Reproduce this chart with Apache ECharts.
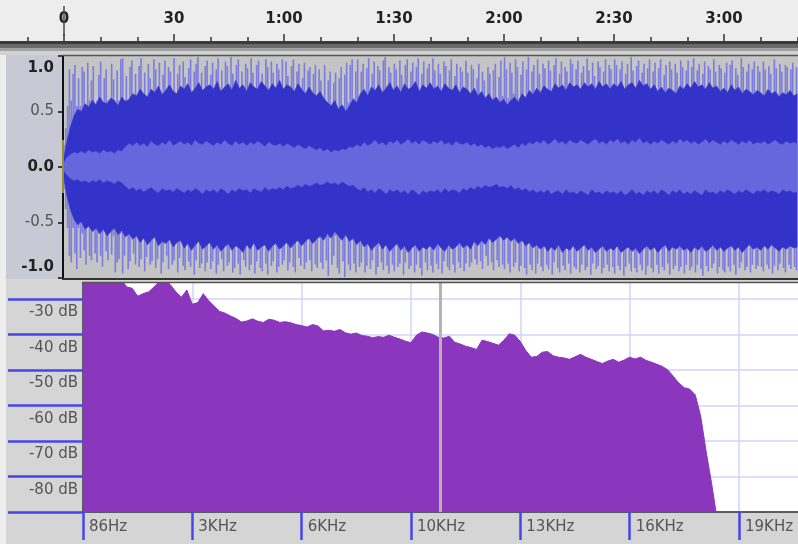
<!DOCTYPE html>
<html><head><meta charset="utf-8">
<script src="https://cdn.jsdelivr.net/npm/echarts@6/dist/echarts.min.js"></script>
<style>html,body{margin:0;padding:0;background:#fff}#c{width:798px;height:544px}</style>
</head><body><div id="c"></div>
<script>
// ---- data ----
const timeMajor = [0, 30, 60, 90, 120, 150, 180];
const timeMinor = [-10, 10, 20, 40, 50, 70, 80, 100, 110, 130, 140, 160, 170, 190, 200];
const ampTicks = [-1, -0.5, 0, 0.5, 1];
const dbTicks = [-90, -80, -70, -60, -50, -40, -30];
const freqLabels = ['86Hz', '3KHz', '6KHz', '10KHz', '13KHz', '16KHz', '19KHz'];
const freqTickIdx = [0, 1, 2, 3, 4, 5, 6];

// waveform peaks, every 0.5 s (t = 0.25, 0.75, ...)
const peakStep = 0.5;
const peakTop = [
 0.20,0.35,0.55,0.88,0.60,0.84,0.92,0.55,0.80,0.55,0.90,0.86,0.55,0.94,0.60,0.78,0.91,0.55,0.60,0.83,
 0.95,0.55,0.80,0.88,0.60,0.55,0.93,0.79,0.55,0.87,0.60,0.97,0.98,0.55,0.82,0.60,0.90,0.96,0.55,0.84,
 0.60,0.91,0.98,0.65,0.85,0.60,0.93,0.80,0.62,0.97,0.88,0.60,0.94,0.65,0.83,0.96,0.62,0.90,0.86,0.60,
 0.98,0.64,0.84,0.92,0.60,0.95,0.81,0.66,0.89,0.97,0.62,0.86,0.93,0.99,0.65,0.85,0.60,0.91,0.96,0.64,
 0.83,0.94,0.62,0.88,0.98,0.66,0.87,0.60,0.95,0.91,0.64,0.99,0.84,0.62,0.92,0.97,0.65,0.86,0.60,0.93,
 0.89,0.64,0.98,0.85,0.62,0.92,0.96,0.66,0.84,0.60,0.97,0.90,0.63,0.95,0.85,0.62,0.93,0.88,0.66,0.97,
 0.62,0.95,0.82,0.64,0.91,0.97,0.60,0.86,0.93,0.62,0.80,0.94,0.65,0.87,0.90,0.60,0.84,0.92,0.62,0.88,
 0.78,0.60,0.92,0.55,0.78,0.86,0.55,0.76,0.85,0.55,0.80,0.90,0.55,0.83,0.94,0.58,0.92,0.97,0.62,0.86,
 0.97,0.64,0.86,0.93,0.62,0.89,0.98,0.65,0.84,0.95,0.60,0.91,0.87,0.64,0.96,0.99,0.62,0.90,0.85,0.66,
 0.93,0.88,0.62,0.96,0.83,0.65,0.92,0.97,0.60,0.86,0.94,0.64,0.90,0.98,0.62,0.84,0.95,0.66,0.89,0.93,
 0.64,0.98,0.87,0.62,0.93,0.84,0.66,0.95,0.91,0.60,0.87,0.97,0.64,0.82,0.93,0.62,0.90,0.86,0.65,0.96,
 0.85,0.62,0.92,0.88,0.60,0.80,0.93,0.62,0.86,0.78,0.60,0.90,0.84,0.62,0.87,0.93,0.60,0.81,0.96,0.64,
 0.99,0.88,0.62,0.94,0.85,0.66,0.97,0.90,0.62,0.83,0.95,0.64,0.88,0.99,0.62,0.86,0.92,0.66,0.97,0.84,
 0.64,0.93,0.89,0.62,0.96,0.87,0.65,0.92,0.98,0.62,0.84,0.95,0.66,0.90,0.86,0.62,0.97,0.93,0.64,0.88,
 0.96,0.62,0.85,0.91,0.66,0.98,0.87,0.62,0.94,0.82,0.65,0.95,0.90,0.62,0.86,0.97,0.64,0.92,0.88,0.66,
 0.97,0.92,0.64,0.88,0.95,0.62,0.84,0.93,0.66,0.99,0.87,0.62,0.91,0.96,0.65,0.85,0.93,0.62,0.89,0.97,
 0.64,0.86,0.94,0.62,0.89,0.97,0.66,0.83,0.92,0.62,0.95,0.88,0.64,0.93,0.85,0.62,0.96,0.90,0.66,0.87,
 0.96,0.64,0.90,0.98,0.62,0.87,0.93,0.66,0.84,0.95,0.62,0.91,0.88,0.64,0.97,0.86,0.62,0.92,0.89,0.65,
 0.85,0.94,0.62,0.92,0.96,0.66,0.89,0.83,0.62,0.98,0.90,0.64,0.86,0.93,0.62,0.88,0.95,0.66,0.91,0.86,
 0.62,0.95,0.88,0.64,0.91,0.84,0.62,0.97,0.89,0.66,0.93,0.86,0.62,0.92,0.90,0.64,0.88,0.94,0.62,0.90];
const peakBottom = [
 -0.20,-0.38,-0.55,-0.80,-0.86,-0.55,-0.78,-0.92,-0.55,-0.82,-0.60,-0.75,-0.88,-0.55,-0.80,-0.84,-0.58,-0.78,-0.86,-0.60,
 -0.80,-0.90,-0.58,-0.76,-0.84,-0.60,-0.79,-0.62,-0.95,-0.86,-0.83,-0.60,-0.96,-0.80,-0.62,-0.92,-0.85,-0.60,-0.78,-0.88,
 -0.62,-0.90,-0.83,-0.64,-0.94,-0.81,-0.66,-0.88,-0.85,-0.62,-0.91,-0.83,-0.65,-0.96,-0.86,-0.62,-0.80,-0.92,-0.66,-0.88,
 -0.84,-0.64,-0.95,-0.82,-0.66,-0.89,-0.93,-0.65,-0.85,-0.90,-0.62,-0.97,-0.84,-0.66,-0.91,-0.87,-0.64,-0.94,-0.86,-0.62,
 -0.92,-0.85,-0.66,-0.96,-0.88,-0.64,-0.83,-0.94,-0.62,-0.89,-0.86,-0.66,-0.95,-0.91,-0.64,-0.87,-0.97,-0.62,-0.84,-0.90,
 -0.66,-0.93,-0.88,-0.64,-0.96,-0.85,-0.62,-0.91,-0.94,-0.66,-0.87,-0.97,-0.64,-0.89,-0.85,-0.62,-0.95,-0.90,-0.66,-0.88,
 -0.84,-0.64,-0.93,-0.86,-0.62,-0.90,-0.95,-0.64,-0.82,-0.89,-0.62,-0.92,-0.86,-0.65,-0.84,-0.94,-0.62,-0.88,-0.91,-0.64,
 -0.86,-0.92,-0.62,-0.84,-0.98,-0.64,-0.88,-0.80,-0.62,-0.91,-0.96,-0.64,-0.85,-0.99,-0.62,-0.88,-0.93,-0.66,-0.87,-0.95,
 -0.64,-0.90,-0.86,-0.62,-0.95,-0.89,-0.66,-0.92,-0.84,-0.62,-0.97,-0.90,-0.64,-0.86,-0.93,-0.62,-0.89,-0.96,-0.66,-0.88,
 -0.94,-0.64,-0.90,-0.87,-0.62,-0.97,-0.86,-0.66,-0.92,-0.89,-0.64,-0.95,-0.88,-0.62,-0.91,-0.98,-0.66,-0.86,-0.93,-0.64,
 -0.89,-0.95,-0.62,-0.87,-0.92,-0.66,-0.96,-0.85,-0.64,-0.90,-0.93,-0.62,-0.88,-0.95,-0.66,-0.86,-0.91,-0.64,-0.94,-0.87,
 -0.62,-0.90,-0.86,-0.64,-0.83,-0.88,-0.62,-0.85,-0.92,-0.64,-0.80,-0.89,-0.62,-0.86,-0.93,-0.66,-0.84,-0.90,-0.62,-0.88,
 -0.92,-0.64,-0.87,-0.95,-0.62,-0.90,-0.86,-0.66,-0.94,-0.89,-0.62,-0.91,-0.97,-0.64,-0.88,-0.93,-0.62,-0.96,-0.87,-0.66,
 -0.90,-0.94,-0.62,-0.88,-0.92,-0.66,-0.97,-0.86,-0.64,-0.91,-0.95,-0.62,-0.89,-0.93,-0.66,-0.87,-0.96,-0.64,-0.90,-0.92,
 -0.62,-0.95,-0.88,-0.66,-0.93,-0.90,-0.64,-0.97,-0.87,-0.62,-0.92,-0.89,-0.66,-0.96,-0.91,-0.64,-0.88,-0.94,-0.62,-0.90,
 -0.96,-0.64,-0.89,-0.93,-0.62,-0.98,-0.90,-0.66,-0.87,-0.94,-0.64,-0.91,-0.95,-0.62,-0.88,-0.93,-0.66,-0.97,-0.89,-0.64,
 -0.91,-0.95,-0.62,-0.88,-0.96,-0.66,-0.90,-0.93,-0.64,-0.87,-0.97,-0.62,-0.92,-0.89,-0.66,-0.94,-0.90,-0.64,-0.96,-0.88,
 -0.64,-0.93,-0.90,-0.62,-0.95,-0.88,-0.66,-0.92,-0.98,-0.64,-0.89,-0.94,-0.62,-0.91,-0.87,-0.66,-0.96,-0.90,-0.64,-0.93,
 -0.95,-0.62,-0.90,-0.94,-0.66,-0.88,-0.97,-0.64,-0.91,-0.86,-0.62,-0.93,-0.90,-0.66,-0.95,-0.88,-0.64,-0.92,-0.89,-0.62,
 -0.90,-0.94,-0.66,-0.88,-0.92,-0.62,-0.96,-0.89,-0.64,-0.93,-0.87,-0.62,-0.91,-0.95,-0.66,-0.88,-0.92,-0.64,-0.90,-0.93];

// waveform body envelope and RMS band, every 1 s (t = 0..200)
const envStep = 1;
const bodyTop = [
 0.04,0.22,0.36,0.46,0.52,0.50,0.57,0.54,0.60,0.56,
 0.63,0.58,0.57,0.62,0.60,0.55,0.63,0.59,0.61,0.66,
 0.64,0.70,0.66,0.63,0.70,0.67,0.73,0.65,0.69,0.74,
 0.68,0.66,0.73,0.70,0.75,0.67,0.71,0.76,0.69,0.72,
 0.74,0.70,0.77,0.68,0.72,0.75,0.69,0.78,0.71,0.74,
 0.68,0.76,0.72,0.70,0.77,0.73,0.69,0.75,0.71,0.78,
 0.70,0.74,0.72,0.68,0.75,0.70,0.66,0.72,0.67,0.64,
 0.68,0.62,0.58,0.55,0.60,0.52,0.56,0.50,0.55,0.61,
 0.58,0.66,0.70,0.64,0.72,0.69,0.74,0.67,0.71,0.76,
 0.69,0.73,0.67,0.75,0.70,0.72,0.77,0.68,0.74,0.71,
 0.76,0.70,0.73,0.68,0.75,0.71,0.69,0.74,0.67,0.72,
 0.70,0.66,0.71,0.64,0.68,0.62,0.66,0.60,0.63,0.58,
 0.61,0.56,0.60,0.63,0.58,0.66,0.62,0.69,0.65,0.71,
 0.67,0.73,0.70,0.68,0.75,0.71,0.74,0.69,0.76,0.72,
 0.74,0.70,0.76,0.72,0.75,0.70,0.77,0.72,0.75,0.70,
 0.75,0.72,0.77,0.70,0.74,0.76,0.71,0.78,0.73,0.75,
 0.70,0.74,0.68,0.72,0.67,0.71,0.69,0.66,0.73,0.70,
 0.75,0.71,0.77,0.72,0.74,0.70,0.76,0.71,0.73,0.68,
 0.71,0.67,0.74,0.69,0.72,0.66,0.70,0.68,0.65,0.69,
 0.67,0.64,0.70,0.66,0.68,0.63,0.67,0.65,0.69,0.64,
 0.66];
const bodyBottom = [
 -0.05,-0.25,-0.38,-0.47,-0.52,-0.49,-0.56,-0.53,-0.58,-0.55,
 -0.60,-0.56,-0.62,-0.58,-0.55,-0.61,-0.57,-0.63,-0.60,-0.65,
 -0.62,-0.68,-0.64,-0.70,-0.66,-0.63,-0.71,-0.67,-0.69,-0.65,
 -0.72,-0.68,-0.66,-0.73,-0.69,-0.75,-0.70,-0.67,-0.74,-0.71,
 -0.68,-0.74,-0.70,-0.76,-0.72,-0.69,-0.75,-0.71,-0.73,-0.77,
 -0.70,-0.74,-0.68,-0.75,-0.72,-0.70,-0.76,-0.71,-0.69,-0.74,
 -0.71,-0.68,-0.73,-0.69,-0.66,-0.71,-0.67,-0.64,-0.69,-0.65,
 -0.62,-0.66,-0.60,-0.64,-0.58,-0.62,-0.66,-0.61,-0.67,-0.64,
 -0.70,-0.66,-0.72,-0.69,-0.75,-0.71,-0.68,-0.74,-0.70,-0.76,
 -0.72,-0.69,-0.75,-0.71,-0.77,-0.73,-0.70,-0.76,-0.72,-0.74,
 -0.71,-0.75,-0.69,-0.73,-0.76,-0.70,-0.74,-0.72,-0.68,-0.73,
 -0.70,-0.74,-0.67,-0.71,-0.66,-0.70,-0.64,-0.68,-0.65,-0.62,
 -0.66,-0.63,-0.67,-0.64,-0.69,-0.66,-0.71,-0.68,-0.73,-0.70,
 -0.74,-0.71,-0.76,-0.72,-0.75,-0.70,-0.77,-0.73,-0.75,-0.71,
 -0.76,-0.73,-0.70,-0.75,-0.72,-0.77,-0.74,-0.71,-0.76,-0.73,
 -0.75,-0.71,-0.77,-0.74,-0.72,-0.76,-0.73,-0.78,-0.74,-0.71,
 -0.75,-0.72,-0.77,-0.73,-0.70,-0.76,-0.72,-0.74,-0.71,-0.75,
 -0.73,-0.77,-0.72,-0.75,-0.71,-0.76,-0.74,-0.70,-0.75,-0.72,
 -0.76,-0.73,-0.71,-0.75,-0.72,-0.77,-0.73,-0.70,-0.74,-0.72,
 -0.75,-0.71,-0.74,-0.70,-0.73,-0.76,-0.72,-0.74,-0.71,-0.73,
 -0.72];
const rmsTop = [
 0.02,0.08,0.11,0.13,0.12,0.14,0.12,0.15,0.13,0.14,
 0.12,0.15,0.13,0.14,0.12,0.15,0.14,0.18,0.21,0.19,
 0.22,0.19,0.21,0.18,0.23,0.20,0.19,0.22,0.20,0.24,
 0.19,0.21,0.23,0.20,0.22,0.19,0.24,0.21,0.20,0.23,
 0.21,0.19,0.22,0.20,0.24,0.21,0.19,0.23,0.20,0.22,
 0.19,0.22,0.20,0.23,0.21,0.18,0.22,0.20,0.19,0.21,
 0.18,0.21,0.19,0.17,0.20,0.18,0.16,0.19,0.17,0.15,
 0.17,0.14,0.16,0.13,0.15,0.14,0.16,0.15,0.18,0.17,
 0.20,0.18,0.22,0.19,0.21,0.24,0.20,0.22,0.19,0.23,
 0.21,0.24,0.20,0.22,0.25,0.21,0.23,0.20,0.24,0.22,
 0.20,0.23,0.21,0.24,0.20,0.22,0.19,0.23,0.21,0.20,
 0.22,0.19,0.21,0.18,0.20,0.17,0.19,0.16,0.18,0.17,
 0.19,0.16,0.18,0.20,0.17,0.21,0.19,0.22,0.20,0.23,
 0.21,0.24,0.20,0.22,0.25,0.21,0.23,0.20,0.24,0.22,
 0.21,0.24,0.22,0.20,0.23,0.25,0.21,0.23,0.20,0.24,
 0.22,0.25,0.21,0.23,0.20,0.24,0.22,0.26,0.21,0.23,
 0.20,0.23,0.21,0.24,0.22,0.20,0.23,0.21,0.25,0.22,
 0.24,0.21,0.23,0.20,0.22,0.25,0.21,0.24,0.22,0.20,
 0.23,0.21,0.24,0.22,0.20,0.23,0.21,0.24,0.20,0.22,
 0.21,0.23,0.20,0.22,0.24,0.21,0.20,0.23,0.21,0.22,
 0.21];
const rmsBottom = [
 -0.02,-0.07,-0.10,-0.12,-0.11,-0.13,-0.12,-0.14,-0.12,-0.13,
 -0.11,-0.14,-0.12,-0.13,-0.15,-0.12,-0.14,-0.17,-0.20,-0.18,
 -0.21,-0.19,-0.22,-0.20,-0.18,-0.21,-0.23,-0.19,-0.21,-0.20,
 -0.22,-0.19,-0.21,-0.23,-0.20,-0.22,-0.19,-0.21,-0.24,-0.20,
 -0.22,-0.20,-0.23,-0.19,-0.21,-0.24,-0.20,-0.22,-0.19,-0.21,
 -0.20,-0.23,-0.19,-0.21,-0.22,-0.18,-0.21,-0.19,-0.20,-0.18,
 -0.20,-0.17,-0.19,-0.18,-0.16,-0.18,-0.15,-0.17,-0.16,-0.14,
 -0.16,-0.15,-0.13,-0.15,-0.14,-0.16,-0.13,-0.15,-0.17,-0.16,
 -0.19,-0.21,-0.18,-0.22,-0.20,-0.23,-0.19,-0.21,-0.24,-0.20,
 -0.22,-0.20,-0.23,-0.21,-0.24,-0.20,-0.22,-0.25,-0.21,-0.23,
 -0.21,-0.22,-0.20,-0.23,-0.19,-0.22,-0.20,-0.21,-0.23,-0.19,
 -0.21,-0.18,-0.20,-0.17,-0.19,-0.16,-0.18,-0.17,-0.15,-0.18,
 -0.17,-0.19,-0.16,-0.20,-0.18,-0.21,-0.19,-0.22,-0.20,-0.23,
 -0.21,-0.23,-0.20,-0.24,-0.22,-0.21,-0.24,-0.20,-0.23,-0.22,
 -0.24,-0.21,-0.23,-0.25,-0.20,-0.23,-0.22,-0.24,-0.21,-0.23,
 -0.22,-0.24,-0.21,-0.25,-0.23,-0.20,-0.24,-0.22,-0.25,-0.21,
 -0.23,-0.21,-0.24,-0.20,-0.22,-0.25,-0.21,-0.23,-0.20,-0.24,
 -0.22,-0.24,-0.21,-0.23,-0.25,-0.20,-0.23,-0.22,-0.24,-0.21,
 -0.23,-0.20,-0.22,-0.24,-0.21,-0.23,-0.20,-0.22,-0.24,-0.21,
 -0.22,-0.20,-0.23,-0.21,-0.22,-0.24,-0.20,-0.22,-0.21,-0.23,
 -0.22];

// spectrum, dB at positions spaced 0.05 of a frequency-label step
const specStep = 0.05;
const spectrumDb = [
 -23,-22.5,-23,-24,-23.5,-24,-23,-24.5,-26.6,-27,
 -29.2,-28.5,-28,-26.6,-25,-24.5,-26,-28,-29.5,-27.5,
 -31.5,-31,-28.5,-30.5,-32,-33.5,-34,-34.8,-35.5,-36.5,
 -36.2,-35.6,-36.3,-36.6,-35.7,-36,-36.6,-36.4,-36.7,-37.2,
 -37.5,-37.9,-37.2,-37.6,-39,-38.8,-39.1,-38.6,-39.5,-39.9,
 -39.6,-40.3,-40.5,-40.9,-40.6,-40.8,-40.2,-40.8,-41.3,-41.9,
 -42.3,-40.2,-39.3,-39.6,-40,-40.8,-41,-40.5,-42.2,-42.7,
 -43.3,-43.7,-44.2,-41.6,-42,-42.5,-43,-41.6,-39.8,-40.2,
 -42,-44.5,-46.4,-46.2,-45,-44.8,-46,-46.4,-46.6,-47,
 -46.3,-45.6,-46.4,-47,-47.6,-48.2,-47.5,-47,-47.8,-47.2,
 -46.4,-46.9,-46.4,-47.3,-47.8,-48.4,-49,-50,-51.8,-53.7,
 -55,-55.4,-57,-63,-73,-82,-92];
const cursorFreq = 3.265;

// ---- build ----
const FONT = 'DejaVu Sans';
const TMIN = -17.45, TMAX = 200.18;
const peakTopData = peakTop.map((v, i) => [(i + 0.5) * peakStep, v]);
const peakBotData = peakBottom.map((v, i) => [(i + 0.5) * peakStep, v]);
const env = a => a.map((v, i) => [i * envStep, v]);
const specData = spectrumDb.map((v, i) => [+(i * specStep).toFixed(3), v]);

function fmtTime(v) {
  if (v < 0 || v > 200) return '';
  if (v < 60) return String(v);
  const m = Math.floor(v / 60), s = Math.round(v % 60);
  return m + ':' + (s < 10 ? '0' : '') + s;
}
function fmtAmp(v) {
  const s = v.toFixed(1);
  if (v === 1) return '{t|' + s + '}';
  if (v === -1) return '{u|' + s + '}';
  if (v === 0) return '{b|' + s + '}';
  return '{n|' + s + '}';
}

const chart = echarts.init(document.getElementById('c'), null, {renderer: 'canvas'});
const areaLine = (name, data, color, z) => ({
  name, type: 'line', xAxisIndex: 1, yAxisIndex: 1, data, z,
  showSymbol: false, symbol: 'none', silent: true,
  lineStyle: {width: 0.6, color}, areaStyle: {color, opacity: 1}
});
const boldLbl = {fontWeight: 'bold', fontSize: 15, color: '#222', fontFamily: FONT};

chart.setOption({
  animation: false,
  backgroundColor: '#ffffff',
  grid: [
    {left: 0, right: 0, top: 41, height: 1, show: false},
    {left: 63, right: 0, top: 56, height: 222, show: true, backgroundColor: '#c5c5c5', borderWidth: 0},
    {left: 83, right: 0, top: 283, bottom: 32, show: true, backgroundColor: '#ffffff', borderWidth: 0}
  ],
  xAxis: [
    {gridIndex: 0, type: 'value', position: 'top', min: TMIN, max: TMAX,
     axisLine: {show: false},
     axisTick: {show: true, customValues: timeMajor, inside: false, length: 8, lineStyle: {color: '#333', width: 1.5}},
     axisLabel: {customValues: timeMajor, formatter: fmtTime, margin: 14, fontSize: 15, fontWeight: 'bold', color: '#222', fontFamily: FONT},
     splitLine: {show: false}},
    {gridIndex: 1, type: 'value', min: 0, max: TMAX, show: false},
    {gridIndex: 2, type: 'value', min: 0, max: 6.54, interval: 1,
     axisLine: {show: true, onZero: false, lineStyle: {color: '#333', width: 1.5}},
     axisTick: {show: true, customValues: freqTickIdx, length: 28, lineStyle: {color: '#4646ea', width: 2.5}},
     axisLabel: {customValues: freqTickIdx, formatter: v => freqLabels[Math.round(v)] || '',
                 align: 'left', padding: [0, 0, 0, 6], margin: 8, fontSize: 15, color: '#555', fontFamily: FONT},
     splitLine: {show: true, lineStyle: {color: '#d2d2fb', width: 1.5}}},
    {gridIndex: 0, type: 'value', position: 'top', min: TMIN, max: TMAX,
     axisLine: {show: false},
     axisTick: {show: true, customValues: timeMinor, inside: false, length: 4, lineStyle: {color: '#333', width: 1.5}},
     axisLabel: {show: false}, splitLine: {show: false}}
  ],
  yAxis: [
    {gridIndex: 0, type: 'value', show: false},
    {gridIndex: 1, type: 'value', min: -1, max: 1, interval: 0.5,
     axisLine: {show: true, onZero: false, lineStyle: {color: '#111', width: 2}},
     axisTick: {show: true, length: 5, lineStyle: {color: '#111', width: 1.5}},
     axisLabel: {
       margin: 9, fontFamily: FONT, fontSize: 15, color: '#333',
       verticalAlignMaxLabel: 'top', verticalAlignMinLabel: 'bottom',
       formatter: fmtAmp,
       rich: {b: boldLbl,
              t: Object.assign({padding: [5, 0, 0, 0]}, boldLbl),
              u: Object.assign({padding: [0, 0, 3, 0]}, boldLbl),
              n: {fontSize: 15, color: '#555', fontFamily: FONT}}
     },
     splitLine: {show: false}},
    {gridIndex: 2, type: 'value', min: -90, max: -25.5, interval: 10,
     axisLine: {show: true, onZero: false, lineStyle: {color: '#333', width: 1.5}},
     axisTick: {show: true, customValues: dbTicks, length: 75, lineStyle: {color: '#4646ea', width: 2.5}},
     axisLabel: {customValues: dbTicks.filter(v => v > -90), formatter: v => v + ' dB',
                 verticalAlign: 'top', padding: [6, 0, 0, 0], margin: 5, fontSize: 15, color: '#555', fontFamily: FONT},
     splitLine: {show: true, lineStyle: {color: '#d2d2fb', width: 1.5}}}
  ],
  series: [
    {name: 'peakTop', type: 'bar', xAxisIndex: 1, yAxisIndex: 1, stack: 'pk', barWidth: 1.6, z: 1,
     data: peakTopData, itemStyle: {color: '#7c7cdc'}, silent: true},
    {name: 'peakBottom', type: 'bar', xAxisIndex: 1, yAxisIndex: 1, stack: 'pk', barWidth: 1.6, z: 1,
     data: peakBotData, itemStyle: {color: '#7c7cdc'}, silent: true},
    areaLine('bodyTop', env(bodyTop), '#3333c9', 2),
    areaLine('bodyBottom', env(bodyBottom), '#3333c9', 2),
    areaLine('rmsTop', env(rmsTop), '#6767dd', 3),
    areaLine('rmsBottom', env(rmsBottom), '#6767dd', 3),
    {name: 'spectrum', type: 'line', xAxisIndex: 2, yAxisIndex: 2, data: specData, z: 2,
     showSymbol: false, symbol: 'none', silent: true, clip: true,
     lineStyle: {width: 1, color: '#8a37bd'},
     areaStyle: {color: '#8a37bd', opacity: 1, origin: 'start'},
     markLine: {symbol: ['none', 'none'], silent: true, label: {show: false},
                lineStyle: {color: '#b3b3b3', width: 3, type: 'solid'},
                data: [{xAxis: cursorFreq}]}}
  ],
  graphic: [
    {type: 'rect', z: -10, shape: {x: 0, y: 0, width: 798, height: 41}, style: {fill: '#ededed'}},
    {type: 'rect', z: -10, shape: {x: 0, y: 41, width: 798, height: 3}, style: {fill: '#3a3a3a'}},
    {type: 'rect', z: -10, shape: {x: 0, y: 44, width: 798, height: 4}, style: {fill: '#6a6a6a'}},
    {type: 'rect', z: -10, shape: {x: 0, y: 48, width: 798, height: 3}, style: {fill: '#a0a0a0'}},
    {type: 'rect', z: -10, shape: {x: 0, y: 51, width: 798, height: 4}, style: {fill: '#d2d2d2'}},
    {type: 'rect', z: -10, shape: {x: 0, y: 55, width: 6, height: 489}, style: {fill: '#eeeeee'}},
    {type: 'rect', z: -10, shape: {x: 6, y: 55, width: 57, height: 225}, style: {fill: '#c9c9d5'}},
    {type: 'rect', z: -10, shape: {x: 6, y: 279, width: 792, height: 265}, style: {fill: '#d5d5d5'}},
    {type: 'line', z: 100, shape: {x1: 62, y1: 55.5, x2: 798, y2: 55.5}, style: {stroke: '#555', lineWidth: 1.5}},
    {type: 'line', z: 100, shape: {x1: 62, y1: 279, x2: 798, y2: 279}, style: {stroke: '#333', lineWidth: 2}},
    {type: 'line', z: 100, shape: {x1: 82, y1: 282.5, x2: 798, y2: 282.5}, style: {stroke: '#555', lineWidth: 1.5}},
    {type: 'line', z: 100, shape: {x1: 64, y1: 6, x2: 64, y2: 36}, style: {stroke: '#444', lineWidth: 1.5}},
    {type: 'line', z: 100, shape: {x1: 63, y1: 140, x2: 63, y2: 193}, style: {stroke: '#9a8c30', lineWidth: 2}}
  ]
});
</script></body></html>
